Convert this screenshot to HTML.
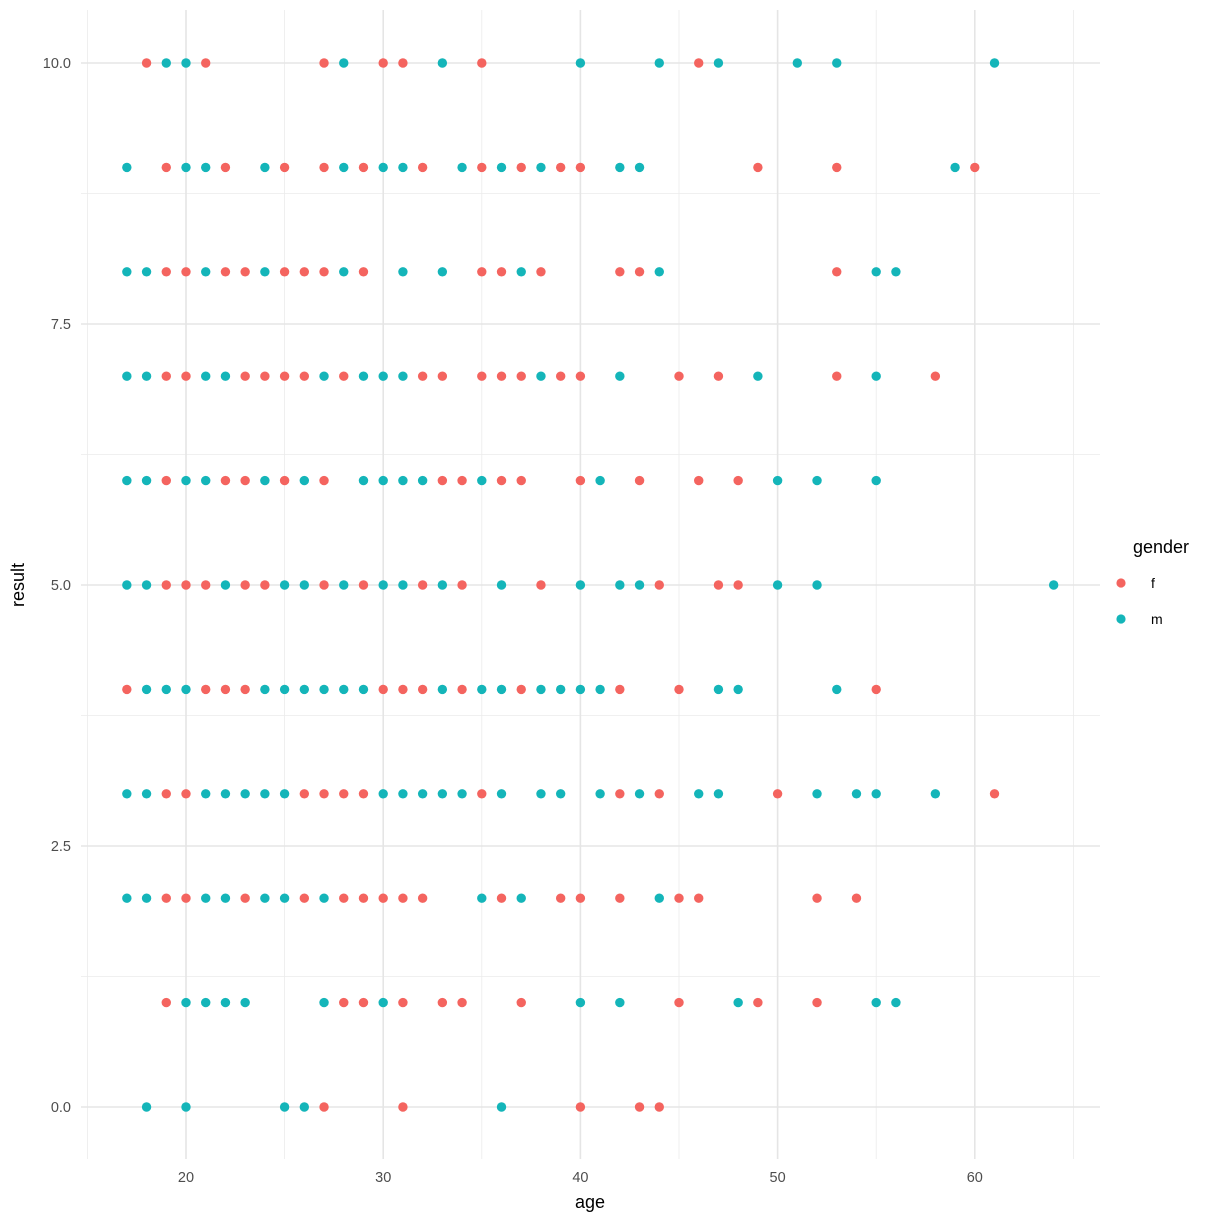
<!DOCTYPE html>
<html><head><meta charset="utf-8"><style>
body{margin:0;background:#fff}
svg{display:block;font-family:"Liberation Sans",Arial,sans-serif}
</style></head><body>
<svg id="chart" width="1224" height="1224" viewBox="0 0 1224 1224">
<g id="grid"></g>
<g id="points"></g>
<g id="axes"></g>
<text x="590" y="1208" font-size="18" text-anchor="middle" fill="#000">age</text>
<text transform="translate(24,585) rotate(-90)" font-size="18" text-anchor="middle" fill="#000">result</text>
<g>
<text x="1133" y="553" font-size="18" fill="#000">gender</text>
<circle cx="1121" cy="583" r="4.6" fill="#F4645F"/>
<text x="1151" y="588" font-size="14" fill="#000">f</text>
<circle cx="1121" cy="619" r="4.6" fill="#14B5B9"/>
<text x="1151" y="624" font-size="14" fill="#000">m</text>
</g>
</svg>
<script>
const xTicks=[20,30,40,50,60];
const yTicks=[0,2.5,5,7.5,10];
const yTickLabels=["0.0","2.5","5.0","7.5","10.0"];
const xMinor=[15,25,35,45,55,65];
const yMinor=[1.25,3.75,6.25,8.75];
const femaleAges=[18,21,27,30,31,35,46, 19,22,25,27,29,32,35,37,39,40,49,53,60, 19,20,22,23,25,26,27,29,35,36,38,42,43,53, 19,20,23,24,25,26,28,32,33,35,36,37,39,40,45,47,53,58, 19,22,23,25,27,33,34,36,37,40,43,46,48, 19,20,21,23,24,27,29,32,34,38,44,47,48, 17,21,22,23,30,31,32,34,37,42,45,55, 19,20,26,27,28,29,35,42,44,50,61, 19,20,23,26,28,29,30,31,32,36,39,40,42,45,46,52,54, 19,28,29,31,33,34,37,45,49,52, 27,31,40,43,44];
const femaleResults=[10,10,10,10,10,10,10, 9,9,9,9,9,9,9,9,9,9,9,9,9, 8,8,8,8,8,8,8,8,8,8,8,8,8,8, 7,7,7,7,7,7,7,7,7,7,7,7,7,7,7,7,7,7, 6,6,6,6,6,6,6,6,6,6,6,6,6, 5,5,5,5,5,5,5,5,5,5,5,5,5, 4,4,4,4,4,4,4,4,4,4,4,4, 3,3,3,3,3,3,3,3,3,3,3, 2,2,2,2,2,2,2,2,2,2,2,2,2,2,2,2,2, 1,1,1,1,1,1,1,1,1,1, 0,0,0,0,0];
const maleAges=[19,20,28,33,40,44,47,51,53,61, 17,20,21,24,28,30,31,34,36,38,42,43,59, 17,18,21,24,28,31,33,37,44,55,56, 17,18,21,22,27,29,30,31,38,42,49,55, 17,18,20,21,24,26,29,30,31,32,35,41,50,52,55, 17,18,22,25,26,28,30,31,33,36,40,42,43,50,52,64, 18,19,20,24,25,26,27,28,29,33,35,36,38,39,40,41,47,48,53, 17,18,21,22,23,24,25,30,31,32,33,34,36,38,39,41,43,46,47,52,54,55,58, 17,18,21,22,24,25,27,35,37,44, 20,21,22,23,27,30,40,42,48,55,56, 18,20,25,26,36];
const maleResults=[10,10,10,10,10,10,10,10,10,10, 9,9,9,9,9,9,9,9,9,9,9,9,9, 8,8,8,8,8,8,8,8,8,8,8, 7,7,7,7,7,7,7,7,7,7,7,7, 6,6,6,6,6,6,6,6,6,6,6,6,6,6,6, 5,5,5,5,5,5,5,5,5,5,5,5,5,5,5,5, 4,4,4,4,4,4,4,4,4,4,4,4,4,4,4,4,4,4,4, 3,3,3,3,3,3,3,3,3,3,3,3,3,3,3,3,3,3,3,3,3,3,3, 2,2,2,2,2,2,2,2,2,2, 1,1,1,1,1,1,1,1,1,1,1, 0,0,0,0,0];

const NS="http://www.w3.org/2000/svg";
const L=81,R=1100,T=10,B=1159;
const xs=a=>186+(a-20)*19.72;
const ys=v=>1107-v*104.4;
function mk(tag,attrs,parent){const e=document.createElementNS(NS,tag);for(const k in attrs)e.setAttribute(k,attrs[k]);parent.appendChild(e);return e;}
const grid=document.getElementById('grid'),axes=document.getElementById('axes'),pts=document.getElementById('points');
xMinor.forEach(v=>{const l=mk('line',{x1:xs(v),x2:xs(v),y1:T,y2:B,stroke:'#ebebeb','stroke-width':0.8},grid);

});
yMinor.forEach(v=>{const l=mk('line',{x1:L,x2:R,y1:ys(v),y2:ys(v),stroke:'#ebebeb','stroke-width':0.8},grid);

});
xTicks.forEach(v=>{const l=mk('line',{x1:xs(v),x2:xs(v),y1:T,y2:B,stroke:'#e5e5e5','stroke-width':1.6},grid);


const t=mk('text',{x:xs(v),y:1182,'font-size':14.5,'text-anchor':'middle',fill:'#4d4d4d'},axes);t.textContent=v;

});
yTicks.forEach((v,i)=>{const l=mk('line',{x1:L,x2:R,y1:ys(v),y2:ys(v),stroke:'#e5e5e5','stroke-width':1.6},grid);


const t=mk('text',{x:71,y:ys(v)+5,'font-size':14.5,'text-anchor':'end',fill:'#4d4d4d'},axes);t.textContent=yTickLabels[i];

});
femaleAges.forEach((a,i)=>{const c=mk('circle',{cx:xs(a),cy:ys(femaleResults[i]),r:4.7,fill:'#F4645F'},pts);

});
maleAges.forEach((a,i)=>{const c=mk('circle',{cx:xs(a),cy:ys(maleResults[i]),r:4.7,fill:'#14B5B9'},pts);

});
</script>
</body></html>
